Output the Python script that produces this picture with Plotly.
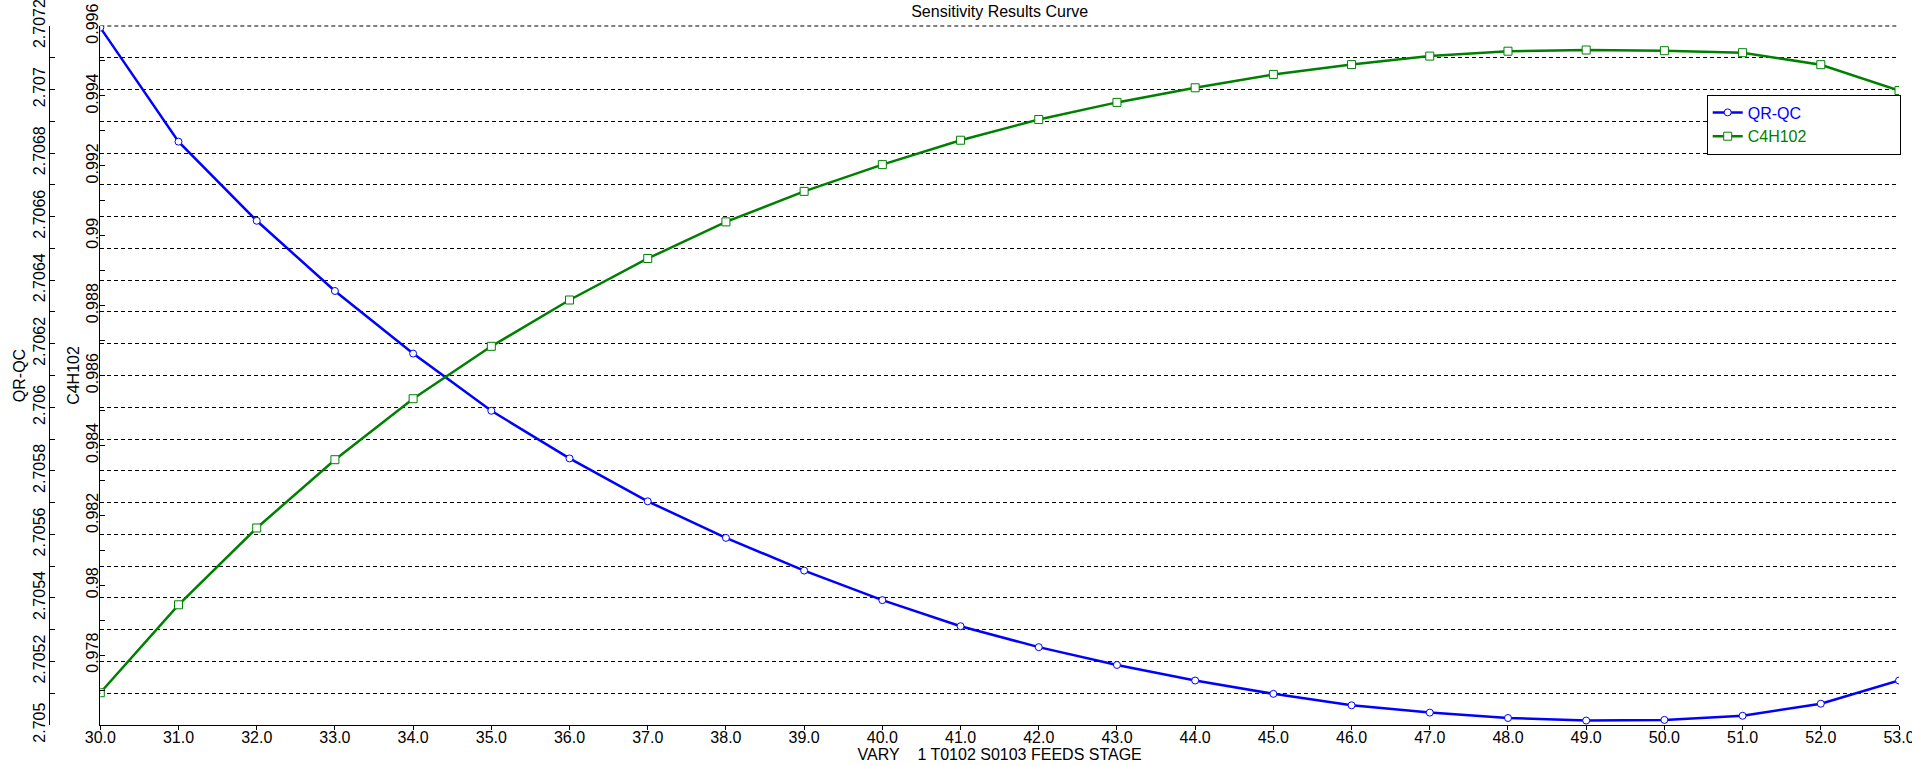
import plotly.graph_objects as go

# ---- data ----
stage = [30, 31, 32, 33, 34, 35, 36, 37, 38, 39, 40, 41, 42, 43, 44, 45, 46, 47, 48, 49, 50, 51, 52, 53]
qr_qc = [2.707195, 2.706836, 2.706587, 2.706366, 2.706169, 2.705989, 2.705839, 2.705704,
         2.705589, 2.705486, 2.705393, 2.705311, 2.705245, 2.705189, 2.705140, 2.705098,
         2.705062, 2.705039, 2.705022, 2.705014, 2.705016, 2.705029, 2.705067, 2.705140]
c4h102 = [0.976924, 0.979439, 0.981637, 0.983591, 0.985336, 0.986835, 0.988160, 0.989348,
          0.990395, 0.991268, 0.992034, 0.992732, 0.993325, 0.993814, 0.994232, 0.994615,
          0.994896, 0.995139, 0.995279, 0.995313, 0.995293, 0.995236, 0.994893, 0.994155]

x_ticktext = [f"{v:.1f}" for v in stage]

qr_tickvals = [2.7050, 2.7051, 2.7052, 2.7053, 2.7054, 2.7055, 2.7056, 2.7057, 2.7058, 2.7059,
               2.7060, 2.7061, 2.7062, 2.7063, 2.7064, 2.7065, 2.7066, 2.7067, 2.7068, 2.7069,
               2.7070, 2.7071, 2.7072]
qr_ticktext = ["2.705", "", "2.7052", "", "2.7054", "", "2.7056", "", "2.7058", "", "2.706", "",
               "2.7062", "", "2.7064", "", "2.7066", "", "2.7068", "", "2.707", "", "2.7072"]

c4_tickvals = [0.976, 0.977, 0.978, 0.979, 0.980, 0.981, 0.982, 0.983, 0.984, 0.985, 0.986,
               0.987, 0.988, 0.989, 0.990, 0.991, 0.992, 0.993, 0.994, 0.995, 0.996]
c4_ticktext = ["", "", "0.978", "", "0.98", "", "0.982", "", "0.984", "", "0.986",
               "", "0.988", "", "0.99", "", "0.992", "", "0.994", "", "0.996"]

BLUE = "#0000FF"
GREEN = "#008000"
FONT = "Liberation Sans, Arial, sans-serif"

W, H = 1912, 766
ML, MR, MT, MB = 0, 13, 26, 41
PW = W - ML - MR
PH = H - MT - MB
x0_px = 100.3          # left edge of plotting area (inner axis)
outer_px = 49.3        # outer axis position

PAD = "\u00a0" * 21    # widens the legend box like the reference

fig = go.Figure()
fig.add_trace(go.Scatter(
    x=stage, y=qr_qc, name=f"<span style='color:{BLUE}'>QR-QC</span>{PAD}",
    mode="lines+markers", yaxis="y",
    line=dict(color=BLUE, width=2.5),
    marker=dict(symbol="circle", size=7, color="white", line=dict(color=BLUE, width=1)),
))
fig.add_trace(go.Scatter(
    x=stage, y=c4h102, name=f"<span style='color:{GREEN}'>C4H102</span>",
    mode="lines+markers", yaxis="y2",
    line=dict(color=GREEN, width=2.5),
    marker=dict(symbol="square", size=8, color="white", line=dict(color=GREEN, width=1)),
))

fig.update_layout(
    width=W, height=H,
    margin=dict(l=ML, r=MR, t=MT, b=MB, autoexpand=False),
    paper_bgcolor="white", plot_bgcolor="white",
    font=dict(family=FONT, size=16, color="black"),
    title=dict(text="Sensitivity Results Curve", x=(x0_px + PW) / 2 / PW, xref="paper",
               xanchor="center", y=1 - 11 / H, yref="container", yanchor="middle",
               font=dict(size=16, color="black")),
    showlegend=True,
    legend=dict(x=1706.7 / PW, y=1 - (94.5 - MT) / PH, xanchor="left", yanchor="top",
                bordercolor="black", borderwidth=1, bgcolor="white",
                font=dict(size=16), tracegroupgap=0),
    xaxis=dict(
        domain=[x0_px / PW, 1], range=[30, 53],
        tickvals=stage, ticktext=x_ticktext,
        ticks="outside", ticklen=4, tickcolor="black",
        ticklabelstandoff=-6, ticklabeloverflow="allow",
        showline=True, linecolor="black", linewidth=1,
        showgrid=False, zeroline=False,
        title=dict(text="VARY\u00a0\u00a0\u00a0 1 T0102 S0103 FEEDS STAGE", standoff=0,
                   font=dict(size=16)),
        automargin=False,
    ),
    yaxis=dict(
        anchor="free", position=outer_px / PW, side="left",
        range=[2.705, 2.7072],
        tickvals=qr_tickvals, ticktext=qr_ticktext, tickangle=-90,
        ticks="inside", ticklen=5, tickcolor="black",
        ticklabelstandoff=-2, ticklabeloverflow="allow",
        showline=True, linecolor="black", linewidth=1,
        showgrid=True, gridcolor="black", gridwidth=1, griddash="4px,3px",
        zeroline=False,
        title=dict(text="QR-QC", standoff=0, font=dict(size=16)),
        automargin=False,
    ),
    yaxis2=dict(
        overlaying="y", anchor="x", side="left",
        range=[0.976, 0.996],
        tickvals=c4_tickvals, ticktext=c4_ticktext, tickangle=-90,
        ticks="inside", ticklen=5, tickcolor="black",
        ticklabelstandoff=-5, ticklabeloverflow="allow",
        showline=True, linecolor="black", linewidth=1,
        showgrid=False, zeroline=False,
        title=dict(text="C4H102", standoff=0, font=dict(size=16)),
        automargin=False,
    ),
    shapes=[dict(type="line", xref="paper", yref="paper", x0=x0_px / PW, x1=1, y0=1, y1=1,
                 line=dict(color="black", width=1, dash="4px,3px"), layer="below")],
)

fig.write_html("out.html", config={"displayModeBar": False},
               post_script="document.body.style.margin='0';")
